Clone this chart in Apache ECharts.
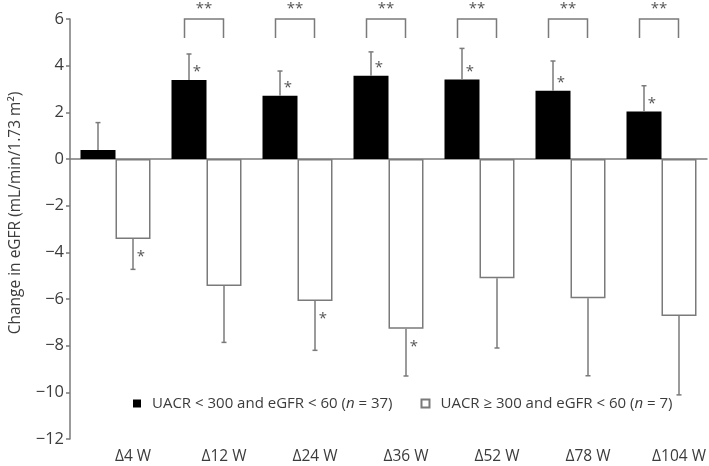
<!DOCTYPE html>
<html>
<head>
<meta charset="utf-8">
<script src="https://cdn.jsdelivr.net/npm/echarts@6/dist/echarts.min.js"></script>
<style>
html,body{margin:0;padding:0;background:#fff;}
#chart{width:709px;height:466px;}
</style>
</head>
<body>
<div id="chart"></div>
<script>
// ---- data ----
const categories = ['\u03944 W', '\u039412 W', '\u039424 W', '\u039436 W', '\u039452 W', '\u039478 W', '\u0394104 W'];
const groupNames = ['UACR < 300 and eGFR < 60', 'UACR \u2265 300 and eGFR < 60'];
const groupN = [37, 7];
const blackMean = [0.39, 3.39, 2.71, 3.57, 3.41, 2.93, 2.04];
const blackSD = [1.17, 1.11, 1.06, 1.02, 1.33, 1.27, 1.10];
const whiteMean = [-3.43, -5.44, -6.09, -7.27, -5.11, -5.97, -6.73];
const whiteSD = [1.30, 2.42, 2.11, 2.03, 2.99, 3.32, 3.38];
const blackSig = [0, 1, 1, 1, 1, 1, 1];
const whiteSig = [1, 0, 1, 1, 0, 0, 0];
const pairSig = [0, 1, 1, 1, 1, 1, 1];
const yMin = -12, yMax = 6, yStep = 2;
const yTitle = 'Change in eGFR (mL/min/1.73 m\u00B2)';

// ---- styles ----
const FONT = 'Open Sans';
const TXT = '#3c3c3c';
const LINE = '#7a7a7a';
const BW = 35;

const seriesNames = groupNames.map((g, i) => g + ' (n = ' + groupN[i] + ')');

function errData(means, sds, sig, dir) {
  return means.map((m, i) => [i, m, m + dir * sds[i], sig[i]]);
}

function errRender(offset, starDy) {
  return function (params, api) {
    const cat = api.value(0);
    const p0 = api.coord([cat, api.value(1)]);
    const p1 = api.coord([cat, api.value(2)]);
    const x = p0[0] + offset;
    const children = [
      { type: 'line', shape: { x1: x, y1: p0[1], x2: x, y2: p1[1] }, style: { stroke: LINE, lineWidth: 1.5 } },
      { type: 'line', shape: { x1: x - 2.5, y1: p1[1], x2: x + 2.5, y2: p1[1] }, style: { stroke: LINE, lineWidth: 1.5 } }
    ];
    if (api.value(3)) {
      children.push({ type: 'text', style: { text: '*', x: x + 8, y: p0[1] + starDy, fill: '#555', font: '15px "' + FONT + '"', align: 'center', verticalAlign: 'middle' } });
    }
    return { type: 'group', children: children };
  };
}

const bracketData = pairSig.map((s, i) => [i, yMax, s]).filter(d => d[2]);

const option = {
  animation: false,
  backgroundColor: '#fff',
  textStyle: { fontFamily: FONT },
  grid: { left: 67, right: 2, top: 19, bottom: 27, containLabel: false },
  legend: {
    left: 128, top: 391,
    itemWidth: 8, itemHeight: 8, itemGap: 28,
    icon: 'rect',
    data: seriesNames,
    formatter: function (name) {
      const m = name.match(/^(.*)\(n = (\d+)\)$/);
      return '{t|' + m[1] + '(}{i|n}{t| = ' + m[2] + ')}';
    },
    textStyle: {
      color: TXT, fontFamily: FONT, fontSize: 15, padding: [0, 0, 0, 6],
      rich: {
        t: { color: TXT, fontFamily: FONT, fontSize: 15 },
        i: { color: TXT, fontFamily: FONT, fontSize: 15, fontStyle: 'italic' }
      }
    }
  },
  xAxis: [
    {
      type: 'category', data: categories, gridIndex: 0,
      axisLine: { show: false, onZero: false }, axisTick: { show: false },
      axisLabel: { color: TXT, fontSize: 15.5, fontFamily: FONT, margin: 10, padding: [0, 0, 0, 35] }
    },
    {
      type: 'category', data: categories, gridIndex: 0, position: 'bottom',
      axisLine: { show: true, onZero: true, lineStyle: { color: LINE, width: 1.5 } },
      axisTick: { show: false }, axisLabel: { show: false }
    }
  ],
  yAxis: {
    type: 'value', min: yMin, max: yMax, interval: yStep,
    name: yTitle, nameLocation: 'middle', nameGap: 46, nameRotate: 90,
    nameTextStyle: { color: TXT, fontSize: 15.5, fontFamily: FONT, padding: [0, 0, 0, 32] },
    axisLine: { show: true, lineStyle: { color: LINE, width: 1.5 } },
    axisTick: { show: true, length: 4, lineStyle: { color: LINE, width: 1.5 } },
    splitLine: { show: false },
    axisLabel: { color: TXT, fontSize: 16.5, fontFamily: FONT, margin: 6, formatter: v => String(v).replace('-', '\u2212') }
  },
  series: [
    {
      name: seriesNames[0], type: 'bar', data: blackMean, barWidth: BW, barGap: '0%',
      itemStyle: { color: '#000' }
    },
    {
      name: seriesNames[1], type: 'bar', data: whiteMean, barWidth: BW, barGap: '0%',
      itemStyle: { color: '#fff', borderColor: LINE, borderWidth: 1.5 }
    },
    {
      type: 'custom', renderItem: errRender(-BW / 2, -8), data: errData(blackMean, blackSD, blackSig, 1),
      clip: false, z: 5, silent: true
    },
    {
      type: 'custom', renderItem: errRender(BW / 2, 18), data: errData(whiteMean, whiteSD, whiteSig, -1),
      clip: false, z: 5, silent: true
    },
    {
      type: 'custom', clip: false, z: 5, silent: true, data: bracketData,
      renderItem: function (params, api) {
        const p = api.coord([api.value(0), api.value(1)]);
        const xl = p[0] - 22, xr = p[0] + 17, yt = p[1], yb = p[1] + 19;
        return {
          type: 'group', children: [
            { type: 'polyline', shape: { points: [[xl, yb], [xl, yt], [xr, yt], [xr, yb]] }, style: { stroke: LINE, lineWidth: 1.5, fill: null } },
            { type: 'text', style: { text: '**', x: (xl + xr) / 2, y: yt - 10, fill: '#555', font: '15px "' + FONT + '"', align: 'center', verticalAlign: 'middle' } }
          ]
        };
      }
    }
  ]
};

const chart = echarts.init(document.getElementById('chart'), null, { renderer: 'canvas' });
chart.setOption(option);
</script>
</body>
</html>
